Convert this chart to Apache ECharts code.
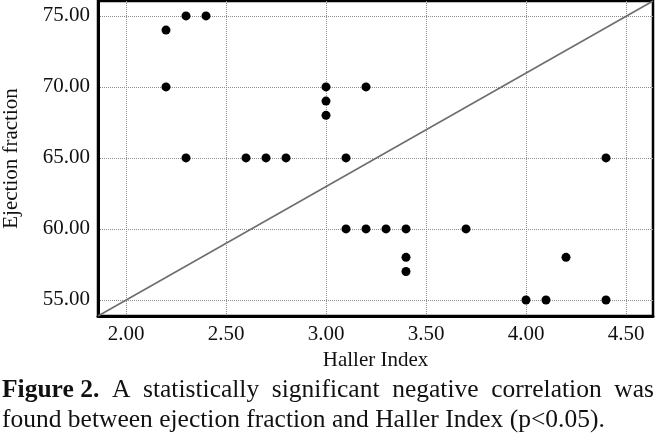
<!DOCTYPE html>
<html><head><meta charset="utf-8">
<script src="https://cdn.jsdelivr.net/npm/echarts@6/dist/echarts.min.js"></script>
<style>html,body{margin:0;padding:0;background:#fff}#c{width:655px;height:434px}</style>
</head><body><div id="c"></div>
<script>
const hallerIndex = [2.2, 2.3, 2.4, 2.2, 2.3, 2.6, 2.7, 2.8, 3.0, 3.0, 3.0, 3.2, 3.1, 4.4, 3.1, 3.2, 3.3, 3.4, 3.7, 3.4, 3.4, 4.2, 4.0, 4.1, 4.4];
const ejectionFraction = [74, 75, 75, 70, 65, 65, 65, 65, 70, 69, 68, 70, 65, 65, 60, 60, 60, 60, 60, 58, 57, 58, 55, 55, 55];
const xTicks = [2.0, 2.5, 3.0, 3.5, 4.0, 4.5];
const yTicks = [55, 60, 65, 70, 75];
const xRange = [1.86, 4.635];
const yRange = [53.87, 76.05];
const xTitle = 'Haller Index';
const yTitle = 'Ejection fraction';
const captionLine1 = ['Figure 2.', 'A', 'statistically', 'significant', 'negative', 'correlation', 'was'];
const captionLine2 = 'found between ejection fraction and Haller Index (p<0.05).';

const FONT = '"Liberation Serif","Times New Roman",serif';
const chart = echarts.init(document.getElementById('c'), null, {renderer: 'canvas'});

// justify caption line 1 across the width
const ctx = document.createElement('canvas').getContext('2d');
const capSize = 25.5;
function w(t, bold) { ctx.font = (bold ? 'bold ' : '') + capSize + 'px ' + FONT; return ctx.measureText(t).width; }
const L = 2, R = 654;
const widths = captionLine1.map((t, i) => w(t, i === 0));
const total = widths.reduce((a, b) => a + b, 0);
const gap = (R - L - total) / (captionLine1.length - 1);
let cx = L;
const capEls = captionLine1.map((t, i) => {
  const el = {type: 'text', x: cx, y: 403, style: {text: t, font: (i === 0 ? 'bold ' : '') + capSize + 'px ' + FONT, fill: '#111', verticalAlign: 'bottom'}};
  cx += widths[i] + gap;
  return el;
});
capEls.push({type: 'text', x: L, y: 433, style: {text: captionLine2, font: capSize + 'px ' + FONT, fill: '#111', verticalAlign: 'bottom'}});

const dotted = {type: [1, 1], color: '#8c8c8c', width: 1};
chart.setOption({
  animation: false,
  backgroundColor: '#fff',
  grid: {left: 98, right: 2, top: 1, bottom: 118, show: true, borderColor: '#000', borderWidth: 2.5, backgroundColor: 'transparent', containLabel: false, outerBoundsMode: 'none'},
  xAxis: {
    type: 'value', min: xRange[0], max: xRange[1],
    name: xTitle, nameLocation: 'middle', nameGap: 34,
    nameTextStyle: {fontFamily: FONT, fontSize: 21, color: '#111'},
    axisLine: {show: true, lineStyle: {color: '#000', width: 3}},
    axisTick: {show: false, customValues: xTicks},
    axisLabel: {customValues: xTicks, formatter: v => v.toFixed(2), fontFamily: FONT, fontSize: 21, color: '#111', margin: 8},
    splitLine: {show: true, lineStyle: dotted}
  },
  yAxis: {
    type: 'value', min: yRange[0], max: yRange[1],
    name: yTitle, nameLocation: 'middle', nameGap: 76,
    nameTextStyle: {fontFamily: FONT, fontSize: 21, color: '#111'},
    axisLine: {show: true, lineStyle: {color: '#000', width: 3}},
    axisTick: {show: false, customValues: yTicks},
    axisLabel: {customValues: yTicks, formatter: v => v.toFixed(2), fontFamily: FONT, fontSize: 21, color: '#111', margin: 8},
    splitLine: {show: true, lineStyle: dotted}
  },
  series: [
    {type: 'line', data: [[xRange[0], yRange[0]], [xRange[1], yRange[1]]], symbol: 'none', lineStyle: {color: '#6e6e6e', width: 1.6}, z: 2},
    {type: 'scatter', data: hallerIndex.map((x, i) => [x, ejectionFraction[i]]), symbol: 'circle', symbolSize: 9, itemStyle: {color: '#000', opacity: 1}, z: 3}
  ],
  graphic: capEls
});
</script></body></html>
